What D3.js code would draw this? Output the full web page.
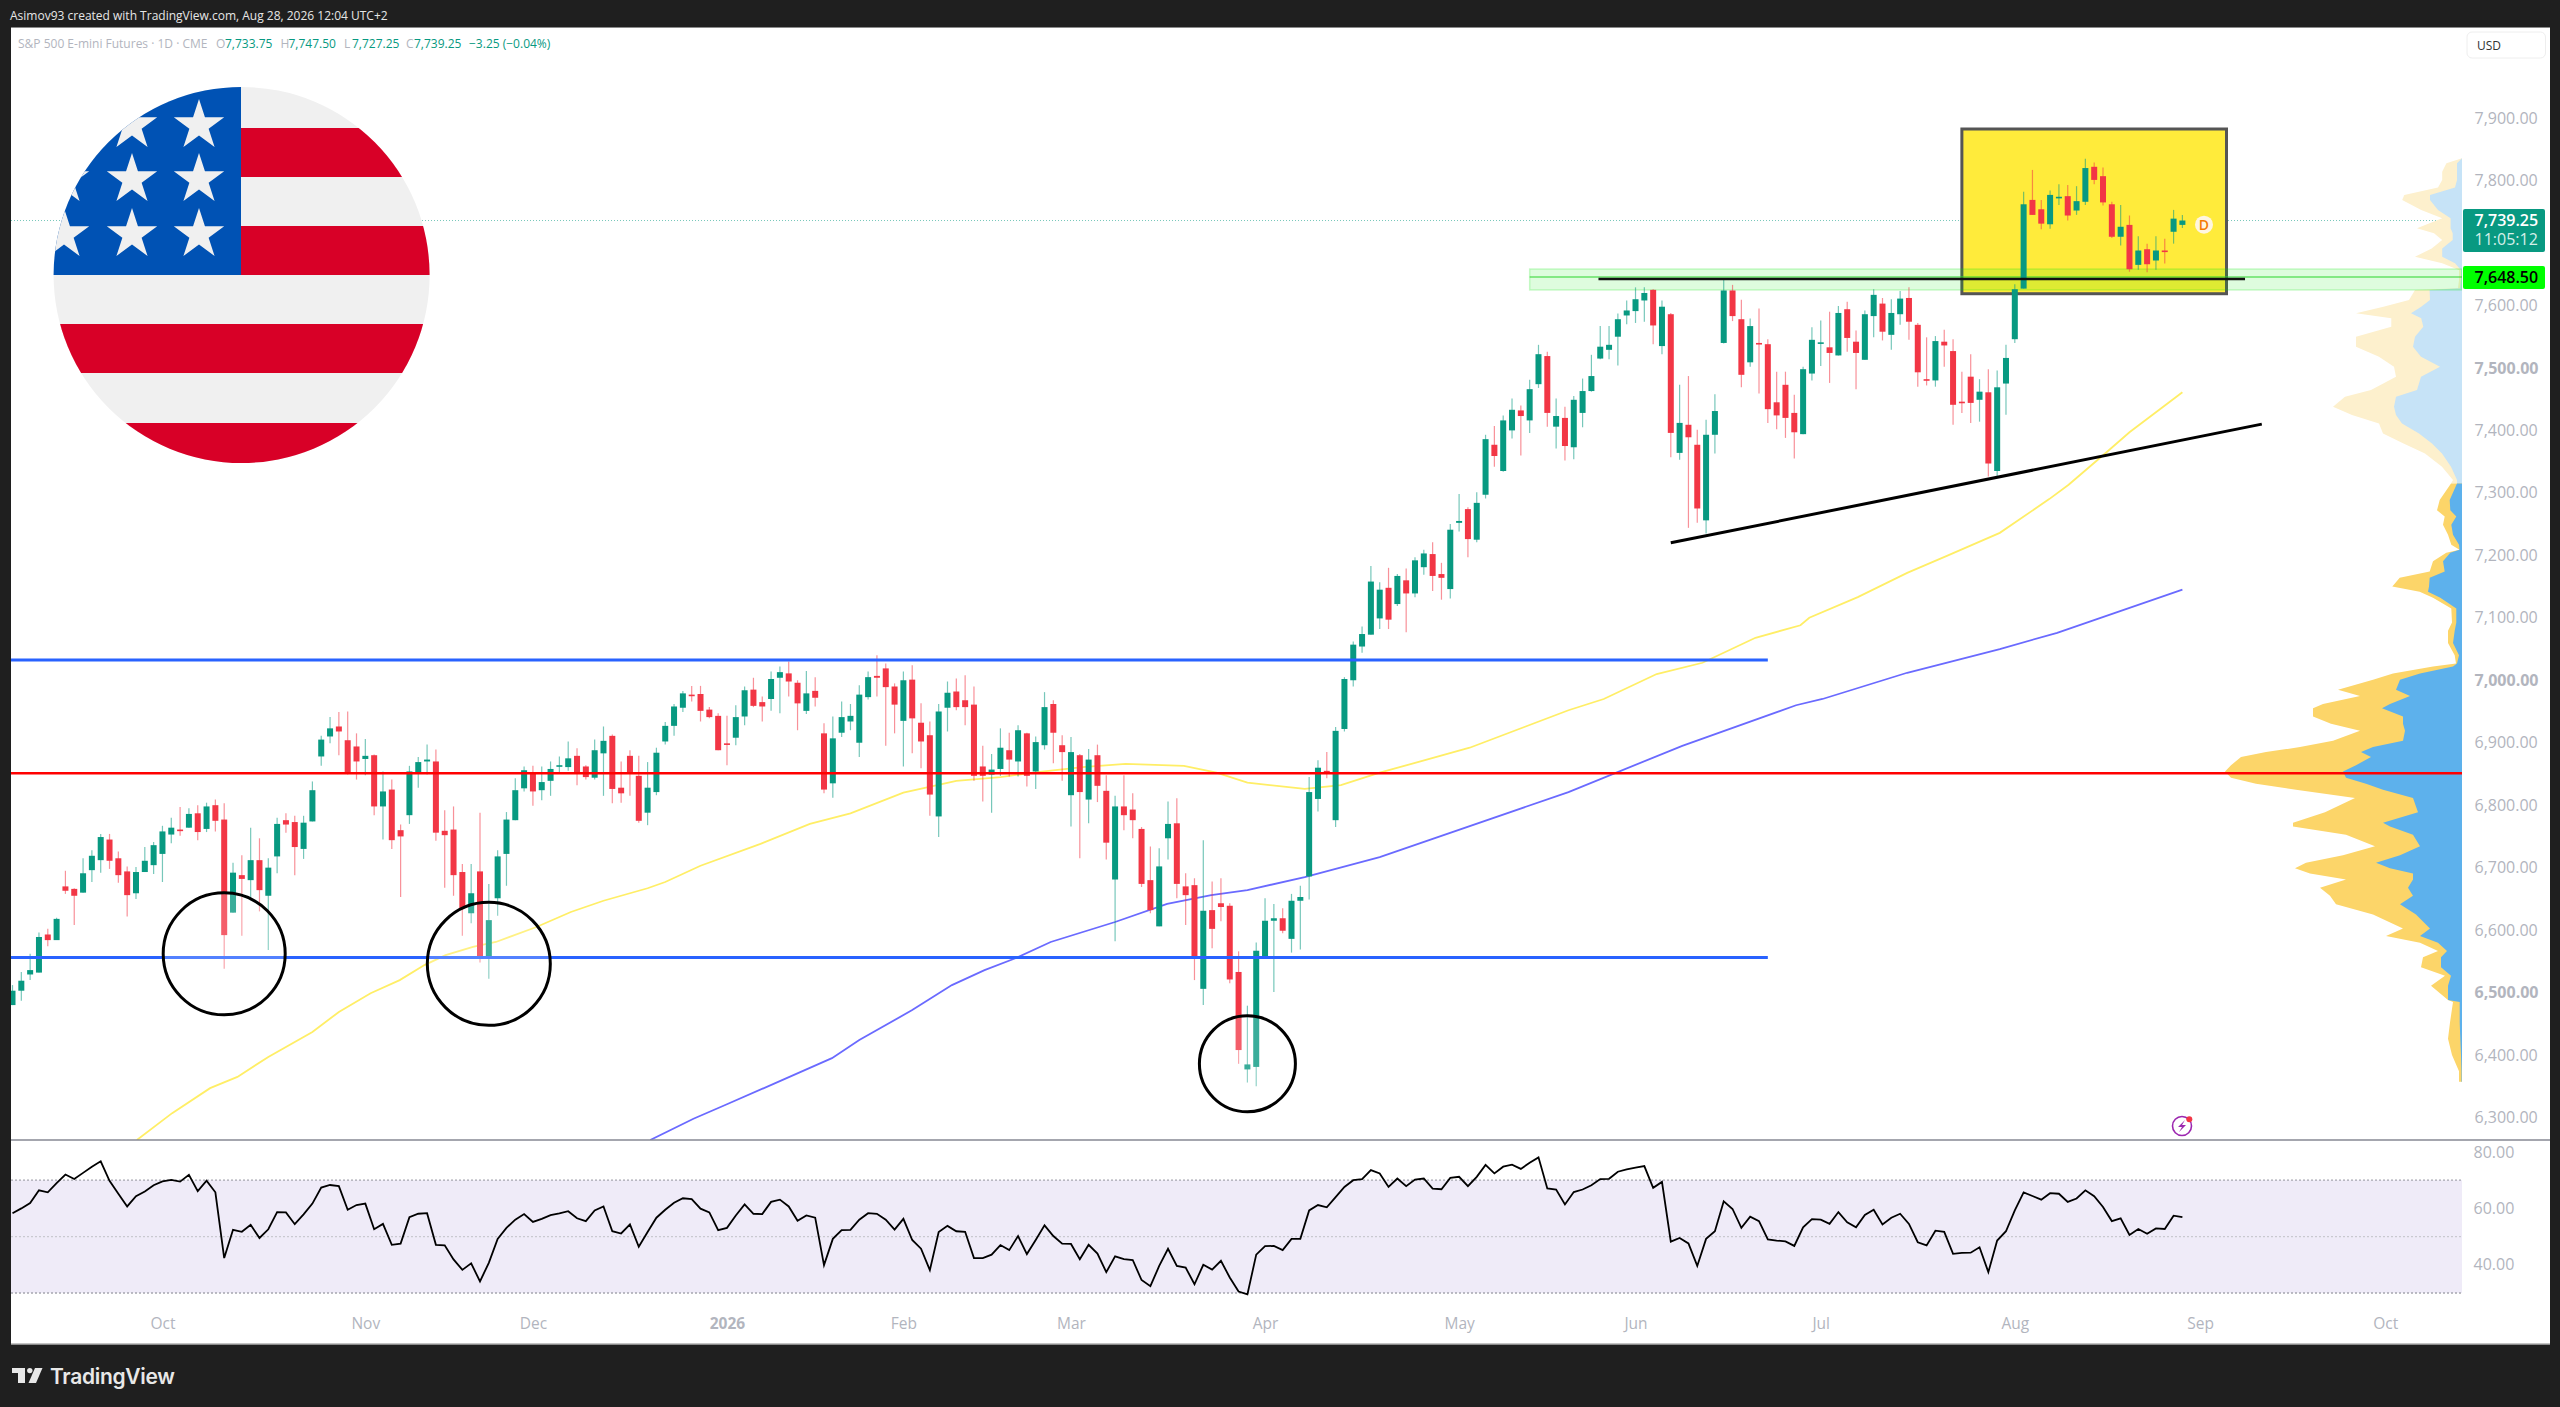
<!DOCTYPE html>
<html><head><meta charset="utf-8">
<script src="https://cdnjs.cloudflare.com/ajax/libs/d3/7.8.5/d3.min.js"></script>
<style>html,body{margin:0;padding:0;background:#1f1f1f}svg{display:block}text{font-family:"Open Sans",sans-serif}</style>
</head><body><svg id="c" width="2560" height="1407"></svg>
<script>
const opens=[6480,6503,6529,6532,6593,6584,6670,6666,6660,6696,
6712,6745,6715,6694,6659,6693,6704,6722,6753,6761,
6764,6787,6762,6800,6777,6628,6688,6680,6712,6655,
6718,6776,6773,6730,6774,6878,6910,6926,6904,6894,
6874,6880,6798,6825,6760,6784,6853,6870,6870,6759,
6761,6693,6627,6694,6558,6651,6722,6776,6827,6851,
6824,6839,6863,6861,6879,6862,6844,6883,6911,6828,
6879,6847,6788,6821,6902,6927,6956,6977,6978,6953,
6943,6899,6908,6942,6985,6965,6970,7004,7011,6996,
6951,6983,6915,6835,6916,6934,6900,6973,7007,7019,
6990,6935,7001,6932,6912,6782,6956,6982,6968,6961,
6862,6849,6858,6888,6870,6915,6854,6896,6962,6896,
6816,6880,6809,6880,6823,6681,6798,6793,6762,6680,
6606,6747,6771,6670,6672,6506,6632,6643,6639,6533,
6377,6381,6556,6615,6619,6586,6647,6686,6810,6855,
6776,6922,7000,7054,7073,7099,7148,7122,7160,7139,
7181,7202,7170,7146,7252,7274,7225,7297,7377,7335,
7400,7432,7416,7474,7519,7406,7420,7373,7428,7463,
7515,7529,7550,7584,7591,7608,7625,7535,7586,7364,
7409,7377,7256,7393,7540,7624,7578,7509,7540,7538,
7445,7473,7428,7394,7491,7539,7533,7520,7594,7542,
7513,7583,7603,7553,7586,7612,7569,7482,7480,7542,
7527,7446,7486,7449,7461,7335,7475,7546,7627,7769,
7754,7730,7773,7775,7752,7766,7822,7807,7762,7710,
7729,7665,7690,7672,7688,7718,7729];
const highs=[6512,6533,6562,6596,6602,6620,6695,6667,6715,6728,
6754,6754,6726,6702,6701,6733,6741,6767,6780,6797,
6795,6800,6804,6809,6803,6708,6720,6764,6747,6715,
6780,6787,6783,6783,6838,6911,6941,6949,6950,6915,
6906,6881,6854,6841,6769,6863,6877,6897,6889,6792,
6798,6706,6706,6788,6674,6728,6789,6843,6862,6863,
6862,6870,6878,6902,6891,6864,6905,6926,6913,6870,
6888,6879,6869,6892,6933,6962,6983,6991,6991,6957,
6947,6943,6960,6990,7004,6974,7014,7022,7030,7000,
7015,7005,6931,6942,6966,6962,6992,7014,7040,7027,
6995,7014,7024,6963,6934,6962,6998,7003,7008,6990,
6895,6882,6923,6916,6928,6916,6910,6981,6968,6912,
6909,6882,6890,6897,6848,6815,6848,6819,6765,6734,
6731,6806,6811,6691,6683,6744,6678,6683,6643,6566,
6479,6580,6651,6642,6635,6658,6671,6845,6872,6885,
6925,7005,7062,7086,7183,7157,7180,7170,7179,7197,
7209,7221,7188,7250,7298,7277,7301,7393,7407,7424,
7451,7440,7481,7537,7526,7451,7438,7455,7483,7521,
7567,7567,7587,7608,7629,7629,7626,7608,7588,7473,
7487,7401,7417,7458,7642,7633,7609,7579,7595,7546,
7494,7494,7457,7502,7565,7576,7590,7599,7606,7560,
7592,7626,7612,7610,7623,7629,7572,7549,7551,7561,
7546,7494,7522,7482,7498,7496,7537,7634,7782,7817,
7769,7784,7794,7793,7791,7835,7829,7821,7766,7761,
7744,7711,7699,7711,7707,7753,7745];
const lows=[6480,6487,6520,6532,6574,6584,6658,6608,6660,6677,
6692,6698,6676,6622,6650,6693,6690,6677,6739,6751,
6764,6744,6757,6758,6538,6628,6591,6648,6630,6568,
6691,6756,6688,6714,6774,6863,6899,6880,6849,6841,
6848,6784,6745,6730,6653,6770,6828,6849,6743,6668,
6655,6591,6611,6548,6522,6623,6671,6776,6822,6799,
6808,6815,6850,6855,6832,6841,6841,6815,6803,6804,
6815,6772,6768,6816,6897,6911,6949,6966,6934,6939,
6888,6864,6896,6928,6957,6934,6951,6947,6974,6920,
6946,6958,6819,6812,6909,6920,6877,6969,6974,6895,
6915,6862,6883,6859,6783,6749,6918,6952,6928,6839,
6806,6788,6847,6846,6846,6830,6826,6889,6867,6839,
6766,6715,6771,6805,6713,6582,6760,6747,6669,6627,
6606,6713,6651,6608,6520,6480,6571,6614,6515,6386,
6356,6350,6555,6501,6595,6564,6569,6649,6790,6843,
6765,6918,6990,7044,7073,7082,7082,7119,7077,7133,
7169,7143,7129,7131,7238,7197,7221,7291,7342,7334,
7387,7360,7396,7468,7406,7371,7352,7354,7405,7462,
7514,7514,7504,7570,7572,7574,7538,7522,7357,7353,
7244,7252,7235,7363,7539,7575,7469,7502,7459,7412,
7402,7388,7355,7394,7480,7503,7476,7520,7526,7466,
7513,7549,7544,7529,7569,7545,7470,7472,7470,7502,
7409,7428,7412,7414,7326,7326,7425,7540,7627,7745,
7722,7723,7761,7736,7745,7761,7794,7760,7708,7696,
7654,7657,7653,7657,7667,7699,7724];
const closes=[6503,6519,6536,6589,6584,6618,6663,6655,6691,6719,
6749,6711,6688,6656,6693,6711,6736,6758,6764,6760,
6786,6757,6798,6775,6592,6692,6682,6712,6664,6700,
6770,6769,6733,6772,6824,6905,6923,6918,6850,6870,
6879,6798,6822,6744,6750,6854,6869,6873,6756,6752,
6688,6635,6659,6558,6616,6718,6777,6824,6856,6822,
6837,6858,6864,6875,6850,6845,6888,6903,6826,6819,
6850,6775,6828,6884,6927,6958,6979,6976,6951,6941,
6888,6897,6941,6984,6959,6958,7002,7013,6998,6963,
6979,6972,6825,6907,6941,6943,6977,7005,7004,6989,
6961,7000,6939,6902,6817,6950,6980,6957,6957,6847,
6847,6857,6892,6873,6920,6847,6901,6957,6916,6885,
6885,6821,6873,6831,6740,6798,6784,6776,6674,6632,
6702,6770,6674,6656,6555,6631,6602,6637,6521,6408,
6385,6567,6615,6619,6599,6647,6653,6821,6860,6850,
6919,7002,7057,7074,7158,7145,7097,7167,7139,7192,
7203,7167,7164,7241,7255,7226,7284,7386,7359,7416,
7433,7423,7466,7522,7428,7423,7375,7449,7463,7487,
7534,7537,7578,7592,7610,7620,7568,7598,7396,7412,
7389,7275,7393,7431,7624,7583,7489,7567,7538,7434,
7424,7420,7397,7498,7545,7541,7524,7588,7548,7524,
7586,7617,7558,7588,7611,7574,7493,7481,7543,7536,
7441,7444,7444,7462,7347,7469,7516,7626,7762,7745,
7731,7777,7774,7744,7767,7820,7801,7765,7710,7726,
7658,7688,7666,7688,7686,7739,7736];
const rsiValues=[58.3,60,61.9,66.4,65.7,69,72,70.4,72.6,74.8,
76.7,69.8,65.2,60.7,64.3,66,68.2,69.6,70.1,69.5,
71.9,66.1,69.8,65.7,42.4,52.4,51.7,54.2,49.5,52.6,
58.7,58.6,54.4,57.9,61.7,67.4,68.3,67.9,59.5,61.2,
61.7,52.6,54.5,47.1,47.5,56.9,58.1,58.3,47.1,46.9,
41.9,38.2,40.5,34.1,40.7,49.2,53.1,56,58,55.2,
56.3,57.6,58.2,59,56.5,55.5,59.3,60.7,51.9,51.1,
54.3,46.4,51.6,56.7,59.5,62,63.6,63.3,59.9,58.6,
52.3,53.1,57.5,61.4,58.1,58,62.3,63.1,60.7,55.6,
57.5,56.7,39.9,49.2,52.3,52.4,56,58.3,58.1,56,
52.5,56.3,48.8,45.7,38.1,51.6,53.8,51.9,51.7,42.4,
42.4,43.6,47,45.2,50.2,43.8,48.8,54,50.2,47.5,
47.4,42,47.1,44,37.4,43,42,41.7,34.6,32.4,
39.6,45.7,39.6,39,33.1,40,38.3,41.4,35.5,30.5,
29.5,43.6,46.6,46.7,
45.2,49.2,49.2,59.3,61.2,60.4,64,67.6,70,70.4,
73.6,72.4,67.6,70.6,67.9,70.2,70.6,67,66.8,70.8,
71.2,67.9,71.2,75.4,72.4,74.8,75.5,74,76.2,78.1,
67.1,66.7,61.4,65.8,66.7,68.2,70.4,70.5,73,73.8,
74.5,75,67.3,69.4,48.2,49.5,47.6,39.6,49.2,51.9,
62.5,59.8,53.1,57.1,55.5,49,48.6,48.3,46.7,53.3,
56.2,56,54.5,58.7,55.1,53.3,57.7,59.5,54.3,56.7,
58.1,54.5,48,46.9,52.1,51.7,43.9,44.2,44.3,46.2,
37.4,48.6,51.9,59.3,65.7,64.4,63.1,65.4,65.2,62.3,
63.5,66.4,64.3,60.5,55.5,56.5,50.6,52.7,51,52.9,
52.7,57.4,56.9];
const yellowBars=[14.1,18.1,22.4,25.5,29,34,37,40.6,43.9,46.7,49.1,52.2,54.8,59.4,63.3,67,72,74,78,84.8,90.4,95,101,107,112,116.2,121.3,126.2,132.8,136.5,140,146.5,150.6,155,165.2,176.4,180.4,186.4,191.6,197.6,202.7,203.7,209.2,214.8,219.3,225.3,230.9,233.1,237.4,240,246];
const yellowVals=[6264,6307,6347,6365,6397,6437,6469,6499,6520,6544,6560,6573,6581,6605,6629,6647,6667,6677,6703,6738,6770,6787,6820,6839,6845,6853,6861,6866,6863,6852,6836,6826,6832,6852,6892,6952,6970,7010,7028,7068,7088,7100,7133,7172,7199,7236,7290,7313,7365,7397,7461];
const blueBars=[72.3,77.2,80.8,86.8,92.9,96,102,106.5,110.2,113.7,117.7,125,130.9,135.9,140,146.5,155,176.4,189.3,202.2,205.2,214.8,225.3,231.8,246];
const blueVals=[6264,6298,6320,6357,6395,6424,6472,6512,6536,6555,6581,6613,6642,6656,6664,6685,6717,6821,6895,6960,6970,7012,7050,7076,7145];
const vpPrice=[7835.5,7827.5,7814,7801,7789,7777,7769,7753,7739.5,7723.5,7715.5,7704.8,7691.4,7678,7667.4,7656.8,7640.8,7627.4,7624.7,7608.7,7598,7587.4,7579.4,7566,7550,7534,7518,7502,7486,7464.7,7454,7438,7424.6,7411,7395,7379,7363,7342,7320.6,7315,7288.5,7272,7262,7249,7233,7217,7209,7204,7190.5,7174,7164,7150,7141.5,7132,7115,7092.5,7079.4,7059.8,7040,7027,7022,7011,7001,6984.7,6975,6962,6955,6942,6930.4,6919,6903,6893,6885,6877,6864,6854,6844,6834.4,6824.6,6811.5,6788.6,6772,6766,6752.7,6734.4,6720,6708,6699,6690.6,6681,6668,6655,6641.6,6625,6602.4,6590.7,6579.6,6566.5,6556.7,6540.4,6527,6511,6488,6485,6452,6426,6400,6374,6357.4];
const vpTotal=[0,15.6,19.8,19.8,24,57.7,59.8,40.8,19.8,45,28,19.8,30.3,47,19.8,3,3,4,47,53,78.6,106,70.7,70.7,106,106,83,68,66,91,117,129,110,83,79,58.5,37,20,9,11,22.3,25,17.3,19,14,10.7,2.5,15.7,29,32.3,62.3,69.7,42.3,29,10.7,10,14,14,7.3,6,29,69,89,124,102,139,149,149,131,102,129,162,196,221,231,237,231,206,166,107,137,169,169,116,87,119,156,167,152,116,142,132,126,89,59,76,42,24,39,41,17,31,14,9,12,14,10,3,3];
const vpUp=[0,5,5,5,7,32,32,24,11.4,11.4,9.3,9.3,19.8,19.8,7,1,1,2,32.4,32,40.8,51,40.8,38.7,47,49,41,22,41,45,66,68,66,60,43,30,20,11,5,5,12.3,11.7,5.7,10.7,9,3,2.5,11.7,19,17.3,32.3,33,34,21.7,5.7,5.7,7.3,9,3,5,9,42,62,66,52,72,80,59,59,57,59,89,101,91,106,119,116,96,79,49,44,79,72,49,42,62,86,72,49,49,54,49,62,46,32,42,24,15,21,21,11,14,14,2.3,2.3,1.7,1,0.5,0.5];
const priceTicks=[7900,7800,7700,7600,7500,7400,7300,7200,7100,7000,6900,6800,6700,6600,6500,6400,6300];
const boldTicks=[7500,7000,6500];
const rsiTicks=[80,60,40];
const rsiBands=[70,50,30];
const monthBars=[17,40,59,81,101,120,142,164,184,205,227,248,269];
const monthLabels=["Oct","Nov","Dec","2026","Feb","Mar","Apr","May","Jun","Jul","Aug","Sep","Oct"];
const levelsBlue=[7032.5,6556.2];
const levelRed=6851.1;
const levelsEnd=199;
const circleBars=[24,54,140];
const circlePrices=[6562,6546,6386];
const circleRadii=[61,61.5,48];
const trendBars=[188,255];
const trendPrices=[7220,7410];
const boxBars=[221,251];
const boxPrices=[7882.5,7618.8];
const zonePrices=[7658.4,7624.8];
const zoneStart=172;
const resistance=7642.4;
const resistanceBars=[179.8,253.1];
const zoneMid=7645.6;
const lastDrawn=7736;

const W=2560,H=1407,L=11,R=2550,T=28,PB=1140,B=1344,AX=2462;
const svg=d3.select("#c");
const xS=d3.scaleLinear().domain([0,246]).range([12.5,2182.4]);
const yS=d3.scaleLinear().domain([6264,8044.2]).range([PB,T]);
const rS=d3.scaleLinear().domain([30,80]).range([1293,1152]);
const vS=d3.scaleLinear().domain([0,240]).range([AX,AX-240]);
const GRN="#089981",RED="#f23645",TXT="#b2b5be";
const defs=svg.append("defs");
defs.append("clipPath").attr("id","pane").append("rect").attr("x",L).attr("y",T).attr("width",AX-L).attr("height",PB-T);
defs.append("clipPath").attr("id","flagc").append("circle").attr("cx",241.6).attr("cy",275).attr("r",188);

svg.append("rect").attr("x",0).attr("y",0).attr("width",W).attr("height",H).attr("fill","#1f1f1f");
svg.append("rect").attr("x",L).attr("y",T).attr("width",R-L).attr("height",B-T).attr("fill","#fff");
svg.append("line").attr("x1",L).attr("x2",R).attr("y1",T-.5).attr("y2",T-.5).attr("stroke","#8a8a8a");
svg.append("line").attr("x1",L).attr("x2",R).attr("y1",B).attr("y2",B).attr("stroke","#b0b0b0").attr("stroke-width",1.5);

svg.append("text").attr("x",10).attr("y",20).attr("fill","#e6e6e6").attr("font-size",12).text("Asimov93 created with TradingView.com, Aug 28, 2026 12:04 UTC+2");
const lg=[[18,"S&P 500 E-mini Futures · 1D · CME",TXT],[216,"O",TXT],[225,"7,733.75",GRN],[280.5,"H",TXT],[288.5,"7,747.50",GRN],[344,"L",TXT],[352,"7,727.25",GRN],[406,"C",TXT],[414,"7,739.25",GRN],[469,"−3.25 (−0.04%)",GRN]];
svg.selectAll(".lg").data(lg).join("text").attr("class","lg").attr("x",d=>d[0]).attr("y",48).attr("font-size",12).attr("fill",d=>d[2]).text(d=>d[1]);

const pane=svg.append("g").attr("clip-path","url(#pane)");
pane.append("line").attr("x1",L).attr("x2",AX).attr("y1",yS(lastDrawn)).attr("y2",yS(lastDrawn)).attr("stroke",GRN).attr("stroke-opacity",.55).attr("stroke-dasharray","1 2");

// volume profile
const rows=vpPrice.map((p,i)=>({p,t:vpTotal[i],u:vpUp[i]}));
const pale=rows.filter(d=>d.p>=7315), deep=rows.filter(d=>d.p<=7315);
const area=k=>d3.area().y(d=>yS(d.p)).x0(vS(0)).x1(d=>vS(d[k]));
pane.append("path").datum(pale).attr("d",area("t")).attr("fill","#fdf0cd");
pane.append("path").datum(pale).attr("d",area("u")).attr("fill","#c6e3f7");
pane.append("path").datum(deep).attr("d",area("t")).attr("fill","#fcd569");
pane.append("path").datum(deep).attr("d",area("u")).attr("fill","#5db1ec");

// yellow box
pane.append("rect").attr("x",xS(boxBars[0])).attr("y",yS(boxPrices[0])).attr("width",xS(boxBars[1])-xS(boxBars[0])).attr("height",yS(boxPrices[1])-yS(boxPrices[0])).attr("fill","#ffeb3b").attr("stroke","#555").attr("stroke-width",3);
// zone
pane.append("rect").attr("x",xS(zoneStart)).attr("y",yS(zonePrices[0])).attr("width",AX-xS(zoneStart)).attr("height",yS(zonePrices[1])-yS(zonePrices[0])).attr("fill","#00e600").attr("fill-opacity",.13).attr("stroke","#00e600").attr("stroke-opacity",.2).attr("stroke-width",1.5);
pane.append("line").attr("x1",xS(zoneStart)).attr("x2",AX).attr("y1",yS(zoneMid)).attr("y2",yS(zoneMid)).attr("stroke","#2bd42b").attr("stroke-width",1.2);

// MAs
const ln=d3.line().x(d=>xS(d[0])).y(d=>yS(d[1]));
pane.append("path").attr("d",ln(d3.zip(yellowBars,yellowVals))).attr("fill","none").attr("stroke","#ffee66").attr("stroke-width",1.8);
pane.append("path").attr("d",ln(d3.zip(blueBars,blueVals))).attr("fill","none").attr("stroke","#6a6aff").attr("stroke-width",1.8);

// candles
const bars=opens.map((o,i)=>({i,o,h:highs[i],l:lows[i],c:closes[i]}));
const col=d=>d.c>=d.o?GRN:RED;
const cg=pane.append("g");
cg.selectAll(".w").data(bars).join("line").attr("class","w").attr("x1",d=>xS(d.i)).attr("x2",d=>xS(d.i)).attr("y1",d=>yS(d.h)).attr("y2",d=>yS(d.l)).attr("stroke",col).attr("stroke-opacity",.55).attr("stroke-width",1.2);
cg.selectAll(".b").data(bars).join("rect").attr("class","b").attr("x",d=>xS(d.i)-3).attr("width",6).attr("y",d=>yS(Math.max(d.o,d.c))).attr("height",d=>Math.max(1.6,Math.abs(yS(d.o)-yS(d.c)))).attr("fill",col);

// levels
pane.selectAll(".lb").data(levelsBlue).join("line").attr("class","lb").attr("x1",L).attr("x2",xS(levelsEnd)).attr("y1",d=>yS(d)).attr("y2",d=>yS(d)).attr("stroke","#2962ff").attr("stroke-width",3);
pane.append("line").attr("x1",L).attr("x2",AX).attr("y1",yS(levelRed)).attr("y2",yS(levelRed)).attr("stroke","#ff0000").attr("stroke-width",2.6);
pane.append("line").attr("x1",xS(resistanceBars[0])).attr("x2",xS(resistanceBars[1])).attr("y1",yS(resistance)).attr("y2",yS(resistance)).attr("stroke","#111").attr("stroke-width",2.6);
pane.append("line").attr("x1",xS(trendBars[0])).attr("x2",xS(trendBars[1])).attr("y1",yS(trendPrices[0])).attr("y2",yS(trendPrices[1])).attr("stroke","#000").attr("stroke-width",3);
pane.selectAll(".cc").data(circleBars).join("circle").attr("class","cc").attr("cx",d=>xS(d)).attr("cy",(d,i)=>yS(circlePrices[i])).attr("r",(d,i)=>circleRadii[i]).attr("fill","#fff").attr("fill-opacity",.2).attr("stroke","#000").attr("stroke-width",3);

// flag
const fg=svg.append("g").attr("clip-path","url(#flagc)");
fg.append("rect").attr("x",50).attr("y",80).attr("width",390).attr("height",390).attr("fill","#f0f0f0");
[[128,177],[226,275],[324,373],[423,470]].forEach((s,i)=>fg.append("rect").attr("x",i<2?241:50).attr("y",s[0]).attr("width",i<2?200:390).attr("height",s[1]-s[0]).attr("fill","#d80027"));
fg.append("rect").attr("x",50).attr("y",80).attr("width",191).attr("height",195).attr("fill","#0052b4");
const starD=(cx,cy,r)=>{let p=[];for(let k=0;k<10;k++){const a=-Math.PI/2+k*Math.PI/5,q=k%2?r*.382:r;p.push([cx+q*Math.cos(a),cy+q*Math.sin(a)]);}return "M"+p.join("L")+"Z";};
[125.5,179.5,234.5].forEach(y=>[199,132,64].forEach(x=>fg.append("path").attr("d",starD(x,y,26.5)).attr("fill","#f0f0f0")));

// price axis
const pa=svg.append("g").attr("transform",`translate(2474.5,0)`).call(d3.axisRight(yS).tickValues(priceTicks).tickSize(0).tickPadding(0).tickFormat(d3.format(",.2f")));
pa.select(".domain").remove();
pa.selectAll("text").attr("font-size",16).attr("fill",TXT).style("font-family",'"Open Sans",sans-serif').attr("font-weight",d=>boldTicks.includes(d)?700:400);

// labels
svg.append("rect").attr("x",2463).attr("y",209).attr("width",82).attr("height",43).attr("rx",2).attr("fill",GRN);
svg.append("text").attr("x",2474.5).attr("y",226).attr("font-size",16).attr("font-weight",600).attr("fill","#fff").text("7,739.25");
svg.append("text").attr("x",2474.5).attr("y",245).attr("font-size",16).attr("fill","#d5efe9").text("11:05:12");
svg.append("rect").attr("x",2463).attr("y",266).attr("width",82).attr("height",23).attr("rx",2).attr("fill","#00ff00");
svg.append("text").attr("x",2474.5).attr("y",283).attr("font-size",16).attr("font-weight",600).attr("fill","#000").text("7,648.50");
svg.append("rect").attr("x",2467).attr("y",32).attr("width",78.5).attr("height",26).attr("rx",5).attr("fill","#fff").attr("stroke","#eeeeee");
svg.append("text").attr("x",2477).attr("y",49.5).attr("font-size",12).attr("fill","#333").text("USD");

// D badge
svg.append("circle").attr("cx",2204).attr("cy",224.7).attr("r",9).attr("fill","#fff6e0");
svg.append("text").attr("x",2204).attr("y",229.7).attr("text-anchor","middle").attr("font-size",14).attr("font-weight",600).attr("fill","#f57c00").text("D");
// lightning
svg.append("circle").attr("cx",2182).attr("cy",1126).attr("r",9.5).attr("fill","#fff").attr("stroke","#9c27b0").attr("stroke-width",1.6);
svg.append("path").attr("d","M2185 1120L2178 1127L2182 1127L2179 1132L2186 1125L2182 1125Z").attr("fill","#9c27b0");
svg.append("circle").attr("cx",2189.3).attr("cy",1119.3).attr("r",3).attr("fill","#f23645");

// pane separator
svg.append("line").attr("x1",L).attr("x2",R).attr("y1",PB).attr("y2",PB).attr("stroke","#868993").attr("stroke-width",1.5);

// RSI
svg.append("rect").attr("x",L).attr("y",rS(rsiBands[0])).attr("width",AX-L).attr("height",rS(rsiBands[2])-rS(rsiBands[0])).attr("fill","#7e57c2").attr("fill-opacity",.12);
svg.selectAll(".rb").data(rsiBands).join("line").attr("class","rb").attr("x1",L).attr("x2",AX).attr("y1",d=>rS(d)).attr("y2",d=>rS(d)).attr("stroke",(d,i)=>i==1?"#c9c9d0":"#a6a6b0").attr("stroke-width",1.3).attr("stroke-dasharray","2 2");
const rl=d3.line().x((d,i)=>xS(i)).y(d=>rS(d));
svg.append("path").attr("d",rl(rsiValues)).attr("fill","none").attr("stroke","#000").attr("stroke-width",1.8);
const ra=svg.append("g").attr("transform","translate(2473.5,0)").call(d3.axisRight(rS).tickValues(rsiTicks).tickSize(0).tickPadding(0).tickFormat(d3.format(".2f")));
ra.select(".domain").remove();
ra.selectAll("text").attr("font-size",16).attr("fill",TXT).style("font-family",'"Open Sans",sans-serif');

// time axis
const ta=svg.append("g").attr("transform","translate(0,1318)").call(d3.axisBottom(xS).tickValues(monthBars).tickSize(0).tickPadding(0).tickFormat((d,i)=>monthLabels[i]));
ta.select(".domain").remove();
ta.selectAll("text").attr("font-size",15.5).attr("fill",TXT).style("font-family",'"Open Sans",sans-serif').attr("font-weight",(d,i)=>monthLabels[i]==="2026"?700:400);

// logo
const lo=svg.append("g").attr("fill","#e8e8e8");
lo.append("path").attr("d","M12 1368H25V1383H18V1373H12Z");
lo.append("circle").attr("cx",29.8).attr("cy",1370.6).attr("r",2.7);
lo.append("path").attr("d","M35 1368H42.5L36 1383H28.5Z");
lo.append("text").attr("x",50).attr("y",1384).attr("font-size",21).style("font-family","Inter,sans-serif").attr("font-weight",600).attr("letter-spacing",-.3).text("TradingView");
</script></body></html>
